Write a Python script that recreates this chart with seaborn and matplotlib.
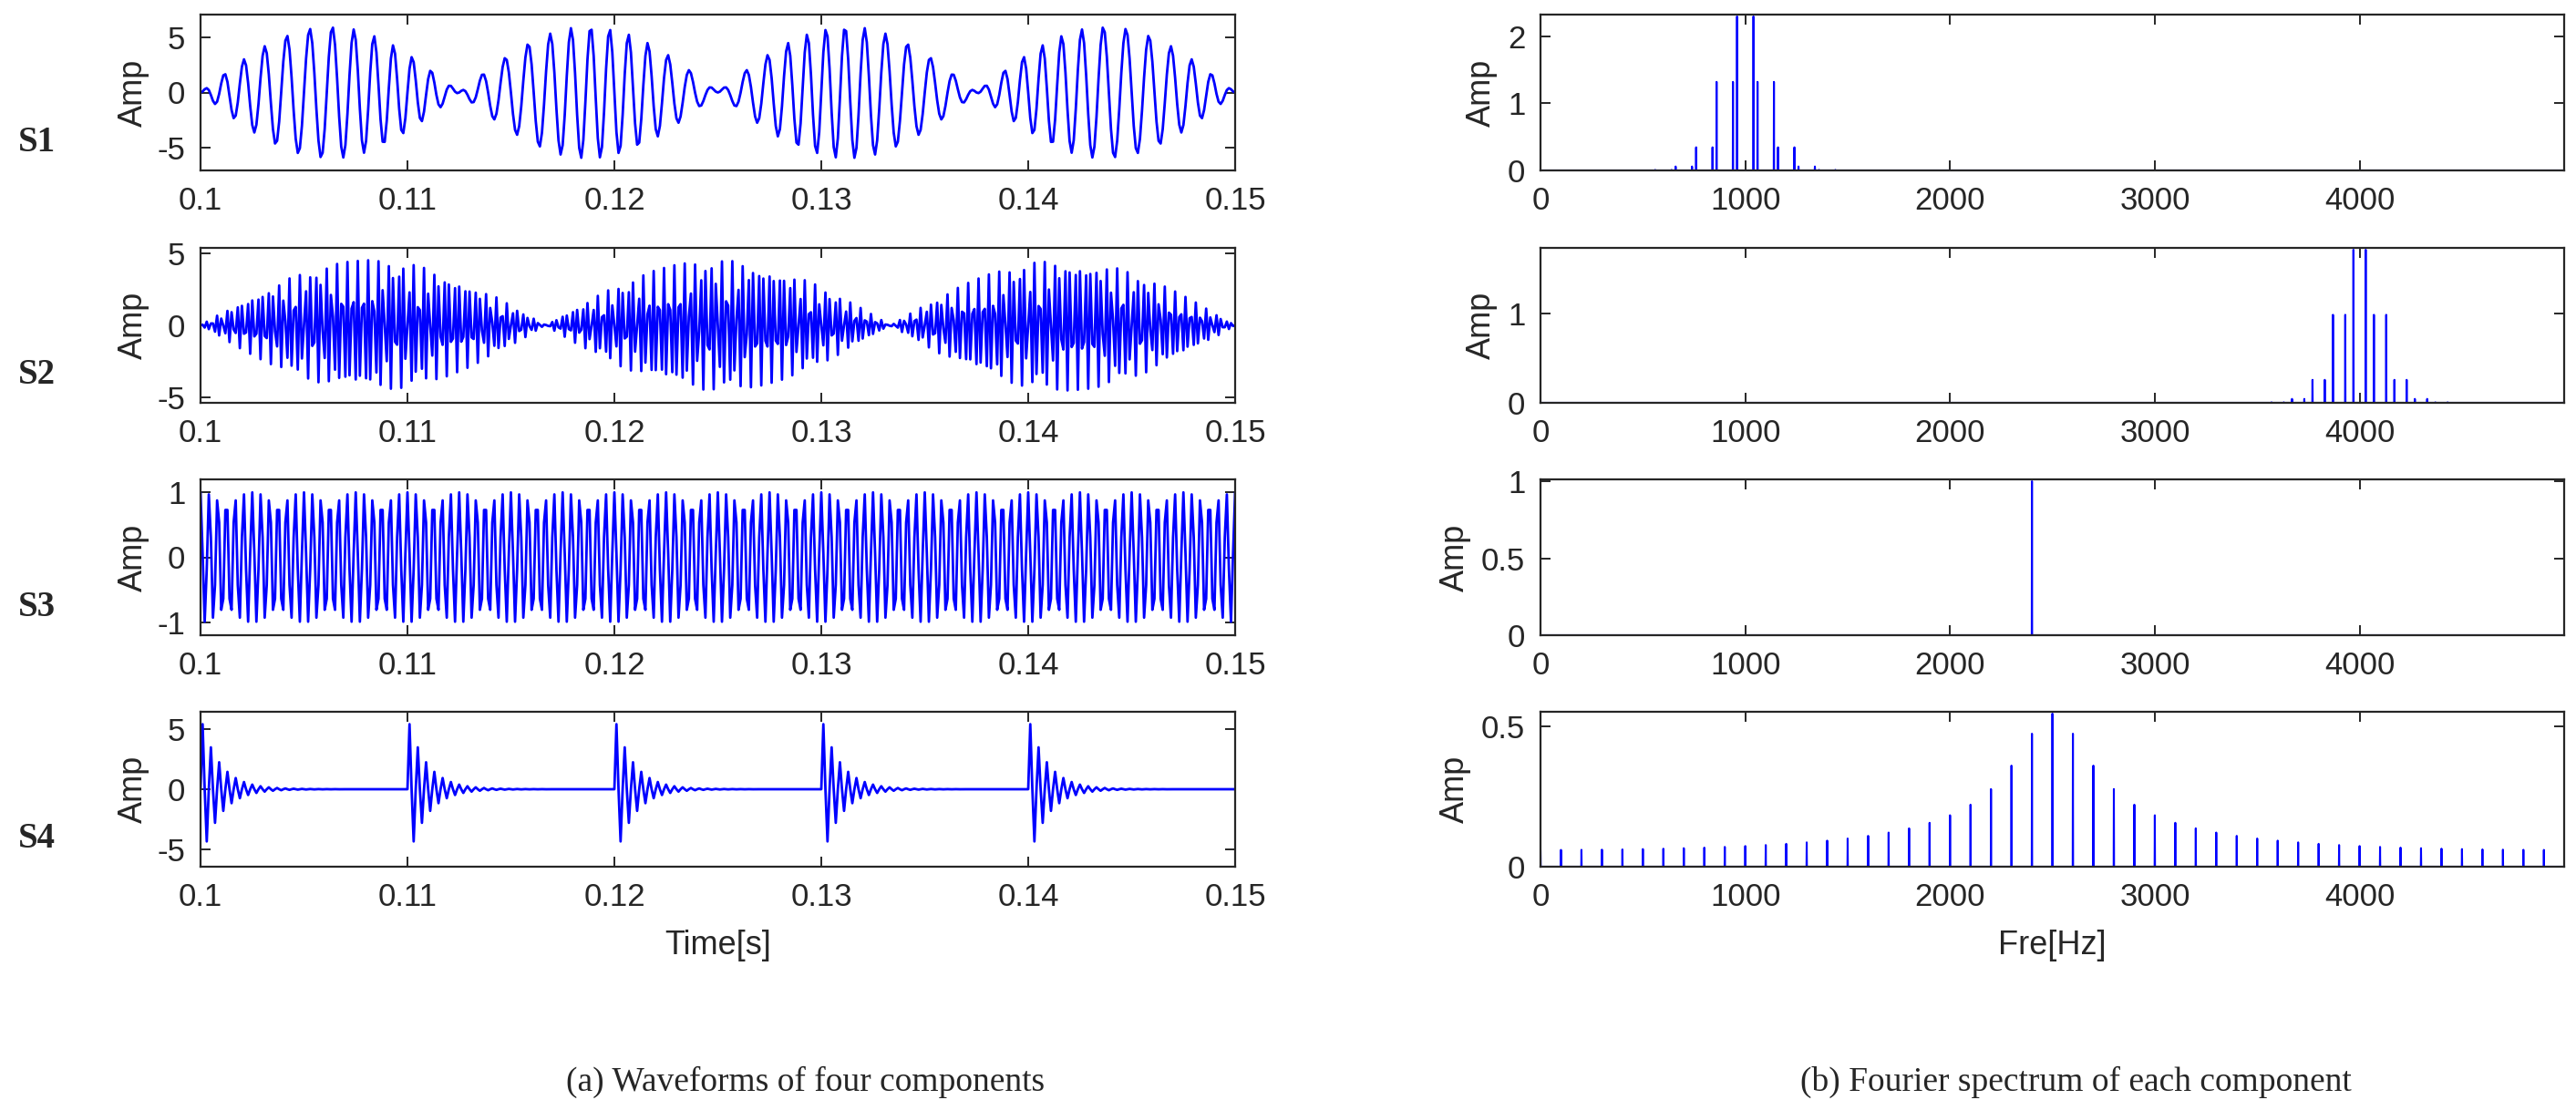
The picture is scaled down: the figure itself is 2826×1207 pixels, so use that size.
import numpy as np
import pandas as pd
import seaborn as sns
import matplotlib
matplotlib.use("Agg")
import matplotlib.pyplot as plt
from matplotlib.ticker import FormatStrFormatter

# sampling used by the original (spectrum runs 0..4999 Hz, 1 Hz bins)
fs = 10000
n_samples = 10000
t_window = [0.1, 0.15]

# S1: amp * sin(2pi f_env t) * sin(2pi f_c t + beta sin(2pi f_m t))
s1_amp, s1_env, s1_carrier, s1_fm, s1_beta = 6.0, 40, 1000, 100, 1.0
# S2: same structure around 4000 Hz
s2_amp, s2_env, s2_carrier, s2_fm, s2_beta = 4.5, 30, 4000, 100, 1.0
# S3: pure tone
s3_amp, s3_freq = 1.0, 2400
# S4: damped 2500 Hz ringing repeated every 10 ms
s4_amp, s4_decay, s4_freq, s4_period = 6.0, 1100, 2500, 0.01

names = ["S1", "S2", "S3", "S4"]
time_ticks = [0.1, 0.11, 0.12, 0.13, 0.14, 0.15]
time_tick_labels = ["0.1", "0.11", "0.12", "0.13", "0.14", "0.15"]
freq_ticks = [0, 1000, 2000, 3000, 4000]
wave_yticks = [[-5, 0, 5], [-5, 0, 5], [-1, 0, 1], [-5, 0, 5]]
wave_ylim = [7.1, 5.35, 1.2, 6.4]
spec_yticks = [[0, 1, 2], [0, 1], [0, 0.5, 1], [0, 0.5]]

captions = ["(a) Waveforms of four components",
            "(b) Fourier spectrum of each component"]

# ---- build signals ----
n = np.arange(n_samples)
t = n / fs
s1 = s1_amp * np.sin(2*np.pi*s1_env*t) * np.sin(2*np.pi*s1_carrier*t + s1_beta*np.sin(2*np.pi*s1_fm*t))
s2 = s2_amp * np.sin(2*np.pi*s2_env*t) * np.sin(2*np.pi*s2_carrier*t + s2_beta*np.sin(2*np.pi*s2_fm*t))
s3 = s3_amp * np.cos(2*np.pi*s3_freq*t)
per = int(round(s4_period * fs))
tau = (n % per) / fs
s4 = s4_amp * np.exp(-s4_decay*tau) * np.sin(2*np.pi*s4_freq*tau)
signals = [s1, s2, s3, s4]

freqs = np.arange(n_samples // 2) * fs / n_samples
spectra = [2*np.abs(np.fft.fft(s))[:n_samples // 2] / n_samples for s in signals]

mask = (t >= t_window[0] - 1e-9) & (t <= t_window[1] + 1e-9)

# ---- style ----
sns.set_style("ticks")
plt.rcParams["font.family"] = ["Liberation Sans", "DejaVu Sans"]
plt.rcParams["axes.edgecolor"] = "#262626"
plt.rcParams["axes.linewidth"] = 1.6
plt.rcParams["xtick.color"] = "#262626"
plt.rcParams["ytick.color"] = "#262626"

W, H = 2826, 1207
fig = plt.figure(figsize=(W/100, H/100), dpi=100)

rows = [(16, 187), (272, 442), (526, 697), (781, 951)]
left_x = (220, 1355)
right_x = (1690, 2813)
blue = "#0000ff"


def place(x0, x1, y0, y1):
    return fig.add_axes([x0/W, 1 - y1/H, (x1-x0)/W, (y1-y0)/H])


def style_ax(ax):
    ax.tick_params(direction="in", top=True, right=True, length=8, width=1.4,
                   labelsize=25, pad=12)
    for sp in ax.spines.values():
        sp.set_visible(True)
        sp.set_linewidth(1.6)


for i in range(4):
    y0, y1 = rows[i]
    # waveform
    ax = place(left_x[0], left_x[1], y0, y1)
    df = pd.DataFrame({"t": t[mask], "amp": signals[i][mask]})
    sns.lineplot(data=df, x="t", y="amp", ax=ax, color=blue, linewidth=2.0,
                 estimator=None, sort=False, errorbar=None)
    ax.set_xlim(t_window)
    ax.set_ylim(-wave_ylim[i], wave_ylim[i])
    ax.set_xticks(time_ticks)
    ax.set_xticklabels(time_tick_labels)
    ax.set_yticks(wave_yticks[i])
    ax.yaxis.set_major_formatter(FormatStrFormatter("%g"))
    ax.set_ylabel("Amp", fontsize=26, labelpad=6)
    ax.set_xlabel("Time[s]" if i == 3 else "", fontsize=26, labelpad=14)
    style_ax(ax)
    fig.text(40/W, 1 - (y1 - 0.18*(y1-y0))/H, names[i], family=["Liberation Serif", "DejaVu Serif"],
             fontweight="bold", fontsize=28, ha="center", va="center")

    # spectrum
    ax = place(right_x[0], right_x[1], y0, y1)
    dfs = pd.DataFrame({"f": freqs, "amp": spectra[i]})
    sns.lineplot(data=dfs, x="f", y="amp", ax=ax, color=blue, linewidth=1.5,
                 estimator=None, sort=False, errorbar=None)
    ax.set_xlim(0, freqs[-1])
    ax.set_ylim(0, spectra[i].max() * 1.012)
    ax.set_xticks(freq_ticks)
    ax.set_yticks(spec_yticks[i])
    ax.yaxis.set_major_formatter(FormatStrFormatter("%g"))
    ax.set_ylabel("Amp", fontsize=26, labelpad=8)
    ax.set_xlabel("Fre[Hz]" if i == 3 else "", fontsize=26, labelpad=14)
    style_ax(ax)

fig.text(0.3125, 0.016, captions[0], family=["Liberation Serif", "DejaVu Serif"],
         fontsize=27, ha="center", va="center")
fig.text(0.806, 0.016, captions[1], family=["Liberation Serif", "DejaVu Serif"],
         fontsize=27, ha="center", va="center")

fig.savefig("out.png", dpi=100)
